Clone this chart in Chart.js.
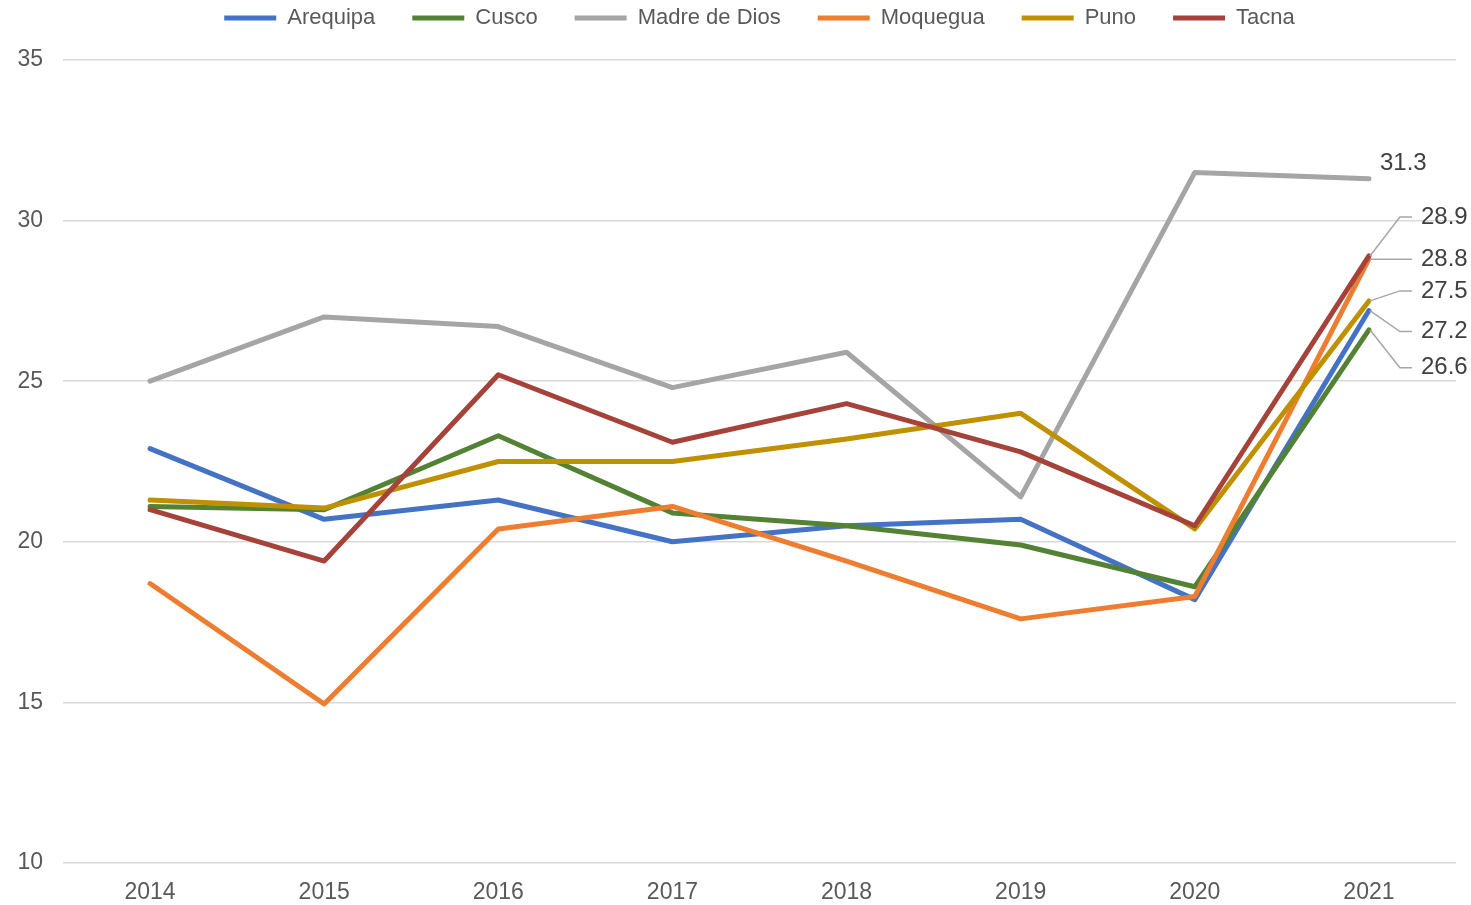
<!DOCTYPE html>
<html>
<head>
<meta charset="utf-8">
<script src="https://cdn.jsdelivr.net/npm/chart.js@4/dist/chart.umd.min.js"></script>
<style>
  html, body { margin: 0; padding: 0; background: #ffffff; }
  #wrap { width: 1471px; height: 905px; position: relative; }
</style>
</head>
<body>
<div id="wrap"><canvas id="c" width="1471" height="905"></canvas></div>
<script>
const years = ['2014', '2015', '2016', '2017', '2018', '2019', '2020', '2021'];
const seriesNames = ['Arequipa', 'Cusco', 'Madre de Dios', 'Moquegua', 'Puno', 'Tacna'];
const arequipa    = [22.9, 20.7, 21.3, 20.0, 20.5, 20.7, 18.2, 27.2];
const cusco       = [21.1, 21.0, 23.3, 20.9, 20.5, 19.9, 18.6, 26.6];
const madreDeDios = [25.0, 27.0, 26.7, 24.8, 25.9, 21.4, 31.5, 31.3];
const moquegua    = [18.7, 14.95, 20.4, 21.1, 19.4, 17.6, 18.3, 28.8];
const puno        = [21.3, 21.05, 22.5, 22.5, 23.2, 24.0, 20.4, 27.5];
const tacna       = [21.0, 19.4, 25.2, 23.1, 24.3, 22.8, 20.5, 28.9];
const yTicks      = [10, 15, 20, 25, 30, 35];

const seriesValues = [arequipa, cusco, madreDeDios, moquegua, puno, tacna];
const seriesColors = ['#4472C4', '#548235', '#A5A5A5', '#ED7D31', '#BF9000', '#A5433A'];
// label placement (style only): pixel offsets of end label relative to last point
const labelDy      = [21, 38, -15, 0, -10, -39];
const labelLeader  = [true, true, false, true, true, true];

const FONT = "'Liberation Sans', Arial, Helvetica, sans-serif";

const endLabels = {
  id: 'endLabels',
  beforeLayout(chart) {
    const lg = chart.legend;
    if (lg && !lg._extraGap) {
      const origFit = lg.fit.bind(lg);
      lg.fit = function () { origFit(); this.height += 21; };
      lg._extraGap = true;
    }
  },
  afterDatasetsDraw(chart) {
    const ctx = chart.ctx;
    ctx.save();
    ctx.font = '24px ' + FONT;
    ctx.textBaseline = 'middle';
    ctx.textAlign = 'left';
    chart.data.datasets.forEach((ds, i) => {
      const meta = chart.getDatasetMeta(i);
      const pt = meta.data[meta.data.length - 1];
      const v = ds.data[ds.data.length - 1];
      const ly = pt.y + labelDy[i];
      if (labelLeader[i]) {
        ctx.strokeStyle = '#A6A6A6';
        ctx.lineWidth = 1.5;
        ctx.beginPath();
        ctx.moveTo(pt.x + 1, pt.y);
        ctx.lineTo(pt.x + 31, ly);
        ctx.lineTo(pt.x + 43, ly);
        ctx.stroke();
        ctx.fillStyle = '#404040';
        ctx.fillText(v.toFixed(1), pt.x + 52, ly);
      } else {
        ctx.fillStyle = '#404040';
        ctx.fillText(v.toFixed(1), pt.x + 11, ly);
      }
    });
    ctx.restore();
  }
};

new Chart(document.getElementById('c'), {
  type: 'line',
  data: {
    labels: years,
    datasets: seriesNames.map((name, i) => ({
      label: name,
      data: seriesValues[i],
      borderColor: seriesColors[i],
      backgroundColor: seriesColors[i],
      borderWidth: 5,
      borderCapStyle: 'round',
      borderJoinStyle: 'round',
      pointRadius: 0,
      pointHoverRadius: 0,
      tension: 0,
      fill: false,
      order: seriesNames.length - 1 - i
    }))
  },
  options: {
    responsive: false,
    animation: false,
    devicePixelRatio: 1,
    layout: { padding: { left: -2.6, right: 15, top: -30, bottom: -17.6 } },
    plugins: {
      legend: {
        position: 'top',
        fullSize: false,
        labels: {
          sort: (a, b) => a.datasetIndex - b.datasetIndex,
          usePointStyle: true,
          pointStyle: 'line',
          pointStyleWidth: 52,
          boxHeight: 4,
          padding: 37,
          color: '#595959',
          font: { family: FONT, size: 22 }
        }
      },
      tooltip: { enabled: false }
    },
    scales: {
      x: {
        type: 'category',
        offset: true,
        grid: { display: false, drawTicks: false },
        border: { display: false },
        ticks: { color: '#595959', font: { family: FONT, size: 23 }, padding: 16, maxRotation: 0 }
      },
      y: {
        min: 10,
        max: 35,
        afterBuildTicks: (axis) => { axis.ticks = yTicks.map(v => ({ value: v })); },
        grid: { color: '#D9D9D9', lineWidth: 1.5, drawTicks: false },
        border: { display: false },
        ticks: { color: '#595959', font: { family: FONT, size: 23 }, padding: 20 }
      }
    }
  },
  plugins: [endLabels]
});
</script>
</body>
</html>
